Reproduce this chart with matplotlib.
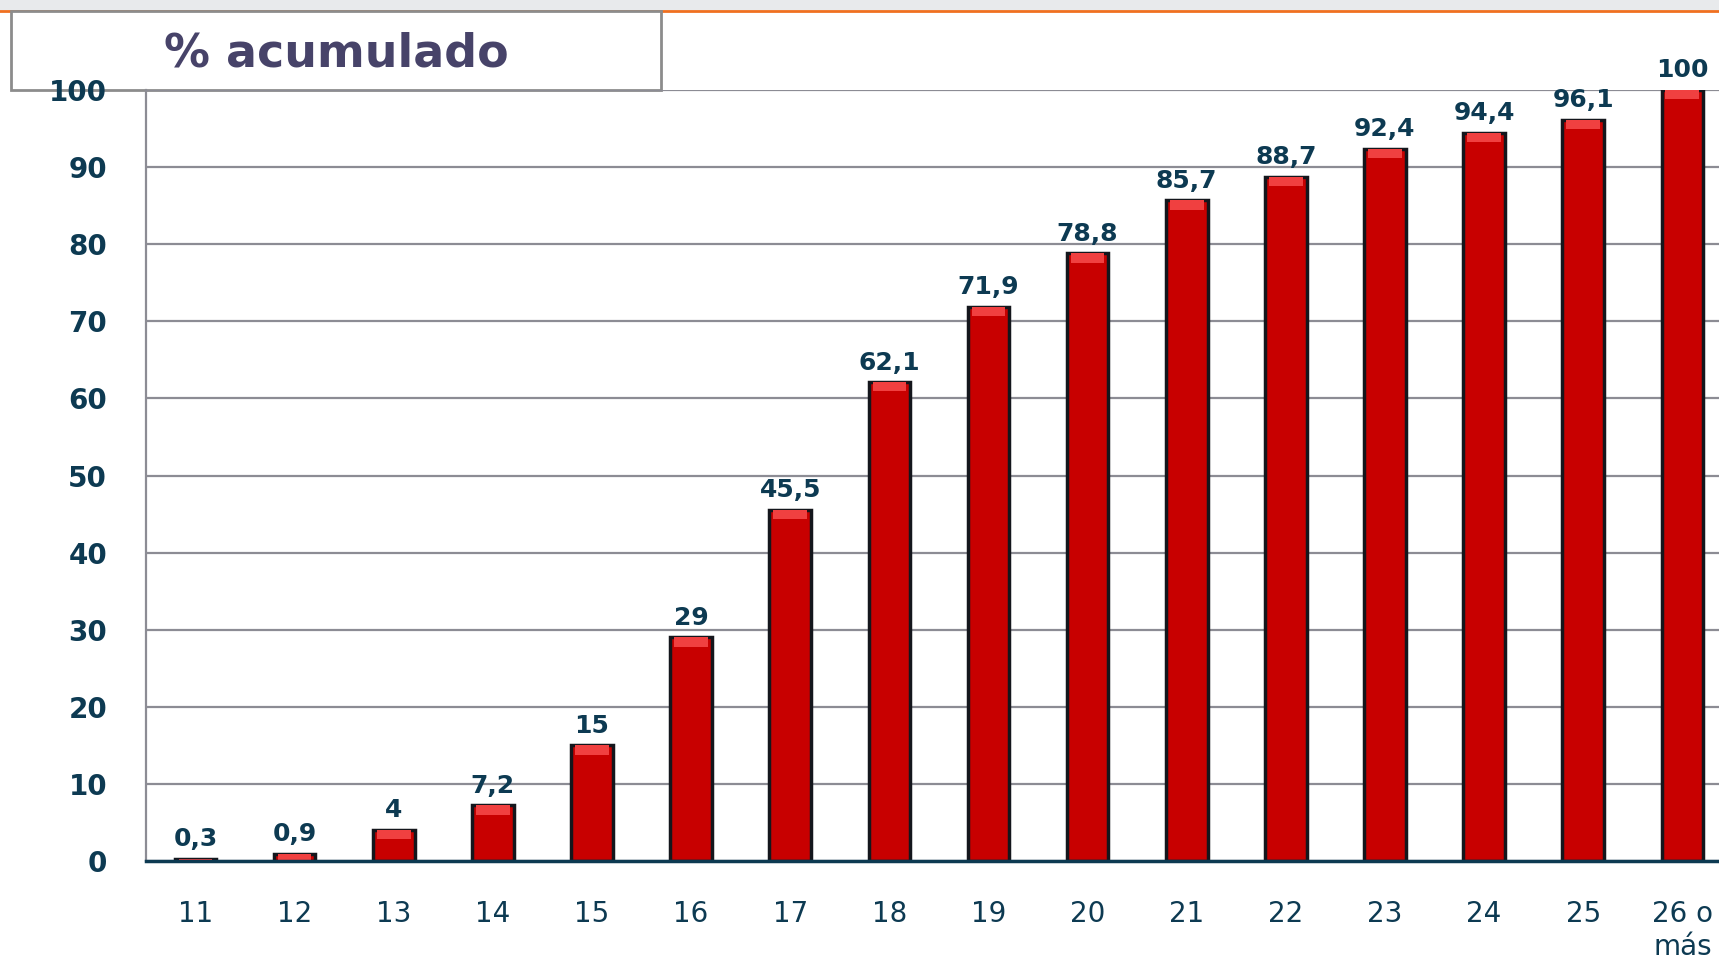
import matplotlib.pyplot as plt
from matplotlib.patches import Rectangle

# datos
edades = ['11', '12', '13', '14', '15', '16', '17', '18', '19', '20',
          '21', '22', '23', '24', '25', '26 o\nmás']
acumulado = [0.3, 0.9, 4, 7.2, 15, 29, 45.5, 62.1, 71.9, 78.8,
             85.7, 88.7, 92.4, 94.4, 96.1, 100]
etiquetas = ['0,3', '0,9', '4', '7,2', '15', '29', '45,5', '62,1', '71,9', '78,8',
             '85,7', '88,7', '92,4', '94,4', '96,1', '100']

azul = '#0d3a52'
rojo = '#c80000'

fig = plt.figure(figsize=(17.19, 9.65), dpi=100)
ax = fig.add_axes([0.0849, 0.1078, 0.9151, 0.7989])
ax.set_zorder(2)
ax.patch.set_visible(False)

x = range(len(edades))
ax.bar(x, acumulado, width=0.42, color=rojo, edgecolor='#14161c', linewidth=2.5, zorder=3)
# brillo superior de cada barra
ax.bar(x, [min(v, 1.2) for v in acumulado], bottom=[v - min(v, 1.2) for v in acumulado],
       width=0.34, color='#f04040', linewidth=0, zorder=4)

for i, v in enumerate(acumulado):
    ax.text(i, v + 1.0, etiquetas[i], ha='center', va='bottom', fontsize=18,
            fontweight='bold', color=azul, zorder=5)

ax.set_xlim(-0.5, 15.37)
ax.set_ylim(0, 100)
ax.set_yticks(range(0, 101, 10))
ax.set_xticks(list(x))
ax.set_xticklabels(edades, fontsize=20, color=azul, linespacing=1.25)
ax.tick_params(axis='x', length=0, pad=28)
ax.tick_params(axis='y', length=0, pad=28, labelsize=20, labelcolor=azul)
for lb in ax.get_yticklabels():
    lb.set_fontweight('bold')
for lb in ax.get_xticklabels():
    lb.set_va('top')

ax.grid(axis='y', color='#8c8c94', linewidth=1.6, zorder=0)
ax.set_axisbelow(True)
for s in ['top', 'right']:
    ax.spines[s].set_visible(False)
ax.spines['left'].set_color('#8c8c94')
ax.spines['left'].set_linewidth(1.6)
ax.spines['bottom'].set_color(azul)
ax.spines['bottom'].set_linewidth(2.5)
ax.spines['bottom'].set_zorder(6)

# franja superior
fig.patches.append(Rectangle((0, 0.989), 1, 0.011, transform=fig.transFigure,
                             facecolor='#e8eaec', edgecolor='none', zorder=0))
fig.add_artist(plt.Line2D([0, 1], [0.9885, 0.9885], transform=fig.transFigure,
                          color='#f07020', linewidth=2, zorder=1))

# caja del título
fig.patches.append(Rectangle((11 / 1719, 1 - 90 / 965), 650 / 1719, 79 / 965,
                             transform=fig.transFigure, facecolor='white',
                             edgecolor='#8c8c8c', linewidth=2, zorder=1))
fig.text(336 / 1719, 1 - 54 / 965, '% acumulado', ha='center', va='center',
         fontsize=33, fontweight='bold', color='#474369', zorder=3)

fig.savefig('out.png', dpi=100)
